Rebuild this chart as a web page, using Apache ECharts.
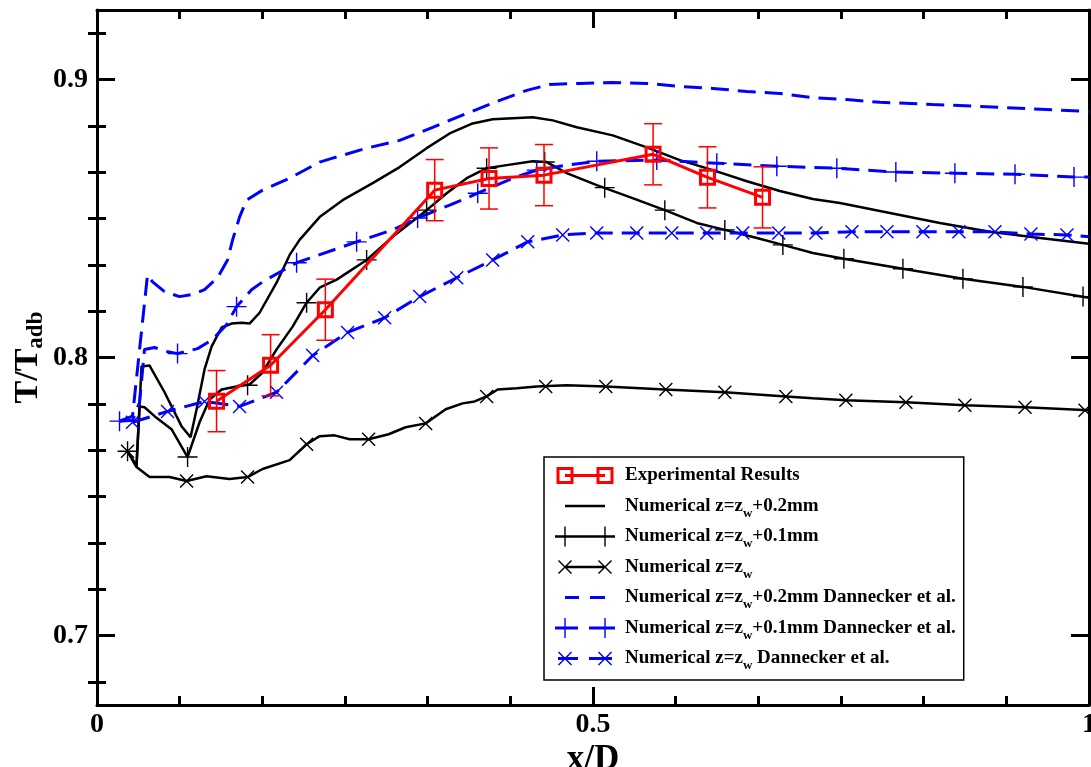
<!DOCTYPE html>
<html>
<head>
<meta charset="utf-8">
<title>T/Tadb vs x/D</title>
<script src="https://cdn.jsdelivr.net/npm/echarts@6/dist/echarts.min.js"></script>
<style>
  html, body { margin: 0; padding: 0; background: #fff; }
  #chart { width: 1091px; height: 767px; }
</style>
</head>
<body>
<div id="chart"></div>
<script>
// experimental points (with error bars)
const expX = [0.1205, 0.175, 0.2302, 0.3404, 0.3952, 0.4506, 0.5606, 0.6154, 0.6709];
const expY = [0.7843, 0.7972, 0.8172, 0.8602, 0.8644, 0.8656, 0.8731, 0.8648, 0.8576];
const expErr = [0.011, 0.011, 0.011, 0.011, 0.011, 0.011, 0.011, 0.011, 0.011];

// numerical z = zw + 0.2mm (line only)
const num02 = [
  [0.0308, 0.7663], [0.0398, 0.7609], [0.0449, 0.7968], [0.0530, 0.7971], [0.0681, 0.7875],
  [0.0852, 0.7753], [0.0943, 0.7713], [0.1004, 0.7814], [0.1084, 0.7957], [0.1155, 0.8039],
  [0.1256, 0.8108], [0.1357, 0.8122], [0.1457, 0.8125], [0.1538, 0.8122], [0.1639, 0.8161],
  [0.1810, 0.8269], [0.1942, 0.8369], [0.2042, 0.8423], [0.2244, 0.8505], [0.2476, 0.8566],
  [0.2779, 0.8627], [0.3051, 0.8685], [0.3323, 0.8753], [0.3555, 0.8806], [0.3787, 0.8842],
  [0.3989, 0.8857], [0.4392, 0.8864], [0.4594, 0.8853], [0.4836, 0.8828], [0.5199, 0.8799],
  [0.5542, 0.8756], [0.5875, 0.8710], [0.6208, 0.8674], [0.6551, 0.8634], [0.6883, 0.8599],
  [0.7216, 0.8570], [0.7489, 0.8556], [0.7993, 0.8520], [0.8497, 0.8484], [0.9001, 0.8452],
  [0.9506, 0.8430], [1.0000, 0.8409]
];

// numerical z = zw + 0.1mm (line and + marks)
const num01 = [
  [0.0308, 0.7663], [0.0398, 0.7609], [0.0429, 0.7824], [0.0479, 0.7821], [0.0580, 0.7789],
  [0.0751, 0.7742], [0.0913, 0.7642], [0.1034, 0.7767], [0.1135, 0.7849], [0.1256, 0.7885],
  [0.1407, 0.7896], [0.1538, 0.7903], [0.1669, 0.7946], [0.1810, 0.8029], [0.1972, 0.8111],
  [0.2113, 0.8197], [0.2244, 0.8251], [0.2416, 0.8280], [0.2718, 0.8351], [0.2980, 0.8434],
  [0.3323, 0.8530], [0.3525, 0.8591], [0.3727, 0.8645], [0.3928, 0.8681], [0.4130, 0.8692],
  [0.4392, 0.8706], [0.4533, 0.8703], [0.4735, 0.8663], [0.5038, 0.8620], [0.5371, 0.8577],
  [0.5724, 0.8530], [0.6046, 0.8484], [0.6329, 0.8459], [0.6652, 0.8430], [0.6914, 0.8405],
  [0.7216, 0.8376], [0.7529, 0.8355], [0.8124, 0.8319], [0.8729, 0.8283], [0.9334, 0.8254],
  [1.0000, 0.8215]
];
const num01Marks = [
  [0.0308, 0.7663], [0.0913, 0.7642], [0.1518, 0.7900], [0.2113, 0.8197], [0.2718, 0.8351],
  [0.3323, 0.8530], [0.3928, 0.8681], [0.4513, 0.8703], [0.5118, 0.8611], [0.5724, 0.8530],
  [0.6329, 0.8459], [0.6914, 0.8405], [0.7529, 0.8355], [0.8124, 0.8319], [0.8729, 0.8283],
  [0.9334, 0.8254], [0.9940, 0.8219]
];

// numerical z = zw (line and x marks)
const num00 = [
  [0.0308, 0.7663], [0.0398, 0.7606], [0.0530, 0.7570], [0.0731, 0.7570], [0.0903, 0.7556],
  [0.1104, 0.7573], [0.1336, 0.7563], [0.1518, 0.7570], [0.1669, 0.7599], [0.1942, 0.7631],
  [0.2113, 0.7688], [0.2244, 0.7717], [0.2395, 0.7720], [0.2547, 0.7706], [0.2738, 0.7706],
  [0.2940, 0.7724], [0.3111, 0.7749], [0.3313, 0.7763], [0.3515, 0.7814], [0.3686, 0.7835],
  [0.3807, 0.7842], [0.3928, 0.7860], [0.4039, 0.7885], [0.4231, 0.7889], [0.4433, 0.7896],
  [0.4735, 0.7900], [0.5129, 0.7896], [0.5724, 0.7885], [0.6329, 0.7875], [0.6944, 0.7860],
  [0.7216, 0.7853], [0.7549, 0.7846], [0.8154, 0.7839], [0.8749, 0.7828], [0.9355, 0.7821],
  [1.0000, 0.7810]
];
const num00Marks = [
  [0.0308, 0.7663], [0.0903, 0.7556], [0.1518, 0.7570], [0.2113, 0.7688], [0.2738, 0.7706],
  [0.3313, 0.7763], [0.3928, 0.7860], [0.4523, 0.7896], [0.5129, 0.7896], [0.5734, 0.7885],
  [0.6329, 0.7875], [0.6944, 0.7860], [0.7549, 0.7846], [0.8154, 0.7839], [0.8749, 0.7828],
  [0.9355, 0.7821], [0.9960, 0.7810]
];

// Dannecker et al., z = zw + 0.2mm (dashed line only)
const dan02 = [
  [0.0227, 0.7771], [0.0358, 0.7789], [0.0509, 0.8297], [0.0560, 0.8272], [0.0681, 0.8237],
  [0.0832, 0.8219], [0.0953, 0.8226], [0.1084, 0.8244], [0.1215, 0.8287], [0.1316, 0.8351],
  [0.1367, 0.8423], [0.1437, 0.8505], [0.1507, 0.8566], [0.1669, 0.8602], [0.1942, 0.8645],
  [0.2244, 0.8703], [0.2375, 0.8717], [0.2718, 0.8753], [0.3051, 0.8781], [0.3384, 0.8828],
  [0.3727, 0.8878], [0.4060, 0.8925], [0.4332, 0.8961], [0.4564, 0.8982], [0.4866, 0.8986],
  [0.5199, 0.8989], [0.5542, 0.8986], [0.5875, 0.8975], [0.6208, 0.8968], [0.6551, 0.8957],
  [0.6883, 0.8950], [0.7216, 0.8935], [0.7559, 0.8928], [0.7892, 0.8918], [0.8426, 0.8910],
  [0.9102, 0.8900], [1.0000, 0.8885]
];

// Dannecker et al., z = zw + 0.1mm (dashed line and + marks)
const dan01 = [
  [0.0227, 0.7771], [0.0358, 0.7774], [0.0429, 0.7839], [0.0479, 0.8029], [0.0580, 0.8036],
  [0.0701, 0.8022], [0.0812, 0.8014], [0.1014, 0.8032], [0.1165, 0.8065], [0.1306, 0.8118],
  [0.1407, 0.8183], [0.1558, 0.8244], [0.1669, 0.8272], [0.2012, 0.8341], [0.2617, 0.8416],
  [0.2980, 0.8459], [0.3232, 0.8502], [0.3555, 0.8548], [0.3838, 0.8591], [0.4191, 0.8645],
  [0.4433, 0.8674], [0.4735, 0.8692], [0.5038, 0.8706], [0.5643, 0.8710], [0.6248, 0.8699],
  [0.6853, 0.8688], [0.7458, 0.8681], [0.8053, 0.8667], [0.8648, 0.8663], [0.9254, 0.8659],
  [0.9849, 0.8649], [1.0000, 0.8649]
];
const dan01Marks = [
  [0.0227, 0.7771], [0.0812, 0.8014], [0.1407, 0.8183], [0.2012, 0.8341], [0.2617, 0.8416],
  [0.3232, 0.8502], [0.3838, 0.8591], [0.4433, 0.8674], [0.5038, 0.8706], [0.5643, 0.8710],
  [0.6248, 0.8699], [0.6853, 0.8688], [0.7458, 0.8681], [0.8053, 0.8667], [0.8648, 0.8663],
  [0.9254, 0.8659], [0.9849, 0.8649]
];

// Dannecker et al., z = zw (dashed line and x marks)
const dan00 = [
  [0.0358, 0.7767], [0.0711, 0.7806], [0.1084, 0.7842], [0.1437, 0.7824], [0.1810, 0.7875],
  [0.2174, 0.8007], [0.2526, 0.8090], [0.2900, 0.8143], [0.3253, 0.8219], [0.3626, 0.8287],
  [0.3989, 0.8351], [0.4342, 0.8416], [0.4695, 0.8441], [0.5038, 0.8448], [0.5441, 0.8448],
  [0.5794, 0.8448], [0.6147, 0.8448], [0.6510, 0.8448], [0.6873, 0.8448], [0.7247, 0.8448],
  [0.7610, 0.8452], [0.7963, 0.8452], [0.8326, 0.8452], [0.8689, 0.8452], [0.9052, 0.8452],
  [0.9415, 0.8444], [0.9778, 0.8441], [1.0000, 0.8434]
];
const dan00Marks = dan00.slice(0, dan00.length - 1);

// axis ticks
const xMin = 0, xMax = 1, xStep = 0.5;
const yMin = 0.675, yMax = 0.925;
const yMajor = [0.7, 0.8, 0.9];
const minorSplit = 6;

const yMinor = [];
for (let k = -minorSplit; k <= 2 * minorSplit + 6; k++) {
  const v = +(0.7 + k * 0.1 / minorSplit).toFixed(5);
  if (k % minorSplit !== 0 && v > yMin && v < yMax) yMinor.push(v);
}

const FONT = "'Liberation Serif', 'Times New Roman', serif";
const BLACK = '#000000', BLUE = '#0000ff', RED = '#ff0000';

const plusSym = 'path://M9.3,0h1.4v20h-1.4zM0,9.3h20v1.4h-20z';
const crossSym = 'path://M0,1L1,0L14,13L13,14ZM13,0L14,1L1,14L0,13Z';

// legend icon pieces (65 x 22 box)
const rect = (x, y, w, h) => `M${x},${y}h${w}v${h}h${-w}z`;
const plus = (cx, cy) => rect(cx - 0.7, cy - 10, 1.4, 20) + rect(cx - 10, cy - 0.7, 20, 1.4);
const cross = (cx, cy) => {
  const a = cx - 7, b = cy - 7;
  return `M${a},${b + 1}L${a + 1},${b}L${a + 14},${b + 13}L${a + 13},${b + 14}Z` +
    `M${a + 13},${b}L${a + 14},${b + 1}L${a + 1},${b + 14}L${a},${b + 13}Z`;
};
const ring = (cx, cy) => rect(cx - 8.5, cy - 8.5, 17, 17) + `M${cx - 5.5},${cy - 5.5}v11h11v-11z`;
const icon = (p) => 'path://M0,0M65,22' + p;

const legendItems = [
  { name: 'exp', color: RED, label: '{m|Experimental Results}{s| }',
    icon: icon(ring(10, 11) + ring(50, 11) + rect(10, 9.5, 40, 3)) },
  { name: 'num02', color: BLACK, label: '{m|Numerical z=z}{s|w}{m|+0.2mm}',
    icon: icon(rect(10, 9.75, 40, 2.5)) },
  { name: 'num01', color: BLACK, label: '{m|Numerical z=z}{s|w}{m|+0.1mm}',
    icon: icon(rect(0, 9.75, 60, 2.5) + plus(10, 11) + plus(50, 11)) },
  { name: 'num00', color: BLACK, label: '{m|Numerical z=z}{s|w}',
    icon: icon(rect(10, 9.75, 40, 2.5) + cross(10, 11) + cross(50, 11)) },
  { name: 'dan02', color: BLUE, label: '{m|Numerical z=z}{s|w}{m|+0.2mm Dannecker et al.}',
    icon: icon(rect(10, 9.5, 14, 3) + rect(35, 9.5, 15, 3)) },
  { name: 'dan01', color: BLUE, label: '{m|Numerical z=z}{s|w}{m|+0.1mm Dannecker et al.}',
    icon: icon(rect(0, 9.5, 23, 3) + rect(34, 9.5, 26, 3) + plus(10, 11) + plus(50, 11)) },
  { name: 'dan00', color: BLUE, label: '{m|Numerical z=z}{s|w}{m| Dannecker et al.}',
    icon: icon(rect(3, 9.5, 20, 3) + rect(34, 9.5, 23, 3) + cross(10, 11) + cross(50, 11)) }
];

const richText = {
  m: { fontFamily: FONT, fontWeight: 'bold', fontSize: 19, lineHeight: 22, color: BLACK },
  s: { fontFamily: FONT, fontWeight: 'bold', fontSize: 13, lineHeight: 2, verticalAlign: 'top',
    padding: [12, 0, 0, 0], color: BLACK }
};

const lineSeries = (name, data, color, dashed) => ({
  name, type: 'line', data, symbol: 'none', showSymbol: false,
  lineStyle: { color, width: dashed ? 3 : 2.5, type: dashed ? [18, 9] : 'solid', cap: 'butt' },
  z: 2, silent: true
});
const markSeries = (name, data, color, sym, size) => ({
  name, type: 'scatter', data, symbol: sym, symbolSize: size,
  itemStyle: { color, opacity: 1 }, z: 3, silent: true
});

const chart = echarts.init(document.getElementById('chart'));

const tickStyle = { color: BLACK, width: 3 };
const yAxisBase = {
  type: 'value', min: yMin, max: yMax, splitLine: { show: false },
  axisLine: { show: true, onZero: false, lineStyle: { color: BLACK, width: 3 } },
  axisLabel: { show: false }
};

chart.setOption({
  animation: false,
  backgroundColor: '#ffffff',
  grid: { left: 97, right: 2, top: 10, bottom: 62, containLabel: false, outerBoundsMode: 'none' },
  xAxis: [
    {
      type: 'value', min: xMin, max: xMax, interval: xStep, position: 'bottom',
      name: 'x/D', nameLocation: 'middle', nameGap: 37, nameMoveOverlap: false,
      nameTextStyle: { fontFamily: FONT, fontWeight: 'bold', fontSize: 35, color: BLACK },
      axisLine: { show: true, onZero: false, lineStyle: { color: BLACK, width: 3 } },
      axisTick: { show: true, inside: true, length: 18, lineStyle: tickStyle },
      minorTick: { show: true, splitNumber: minorSplit, length: 9, lineStyle: tickStyle },
      axisLabel: { show: true, margin: 6, showMinLabel: true, showMaxLabel: true,
        fontFamily: FONT, fontWeight: 'bold', fontSize: 28, color: BLACK },
      splitLine: { show: false }
    },
    {
      type: 'value', min: xMin, max: xMax, interval: xStep, position: 'top',
      axisLine: { show: true, onZero: false, lineStyle: { color: BLACK, width: 3 } },
      axisTick: { show: true, inside: true, length: 18, lineStyle: tickStyle },
      minorTick: { show: true, splitNumber: minorSplit, length: 9, lineStyle: tickStyle },
      axisLabel: { show: false },
      splitLine: { show: false }
    }
  ],
  yAxis: [
    Object.assign({}, yAxisBase, {
      position: 'left',
      name: '{b|T/T}{s|adb}', nameLocation: 'middle', nameGap: 51, nameRotate: 90,
      nameMoveOverlap: false,
      nameTextStyle: {
        rich: {
          b: { fontFamily: FONT, fontWeight: 'bold', fontSize: 34, lineHeight: 36, color: BLACK },
          s: { fontFamily: FONT, fontWeight: 'bold', fontSize: 23, lineHeight: 2, verticalAlign: 'top',
            padding: [15, 0, 0, 0], color: BLACK }
        }
      },
      axisTick: { show: true, inside: true, length: 18, customValues: yMajor, lineStyle: tickStyle },
      axisLabel: { show: true, customValues: yMajor, margin: 9, formatter: (v) => v.toFixed(1),
        fontFamily: FONT, fontWeight: 'bold', fontSize: 28, color: BLACK }
    }),
    Object.assign({}, yAxisBase, {
      position: 'left', axisLine: { show: false },
      axisTick: { show: true, inside: true, length: 9, customValues: yMinor, lineStyle: tickStyle }
    }),
    Object.assign({}, yAxisBase, {
      position: 'right',
      axisTick: { show: true, inside: true, length: 18, customValues: yMajor, lineStyle: tickStyle }
    }),
    Object.assign({}, yAxisBase, {
      position: 'right', axisLine: { show: false },
      axisTick: { show: true, inside: true, length: 9, customValues: yMinor, lineStyle: tickStyle }
    })
  ],
  legend: {
    orient: 'vertical', left: 544, top: 457,
    itemWidth: 65, itemHeight: 22, itemGap: 5.5,
    padding: [7.5, 8, 7.5, 11],
    borderColor: BLACK, borderWidth: 1.5, backgroundColor: '#ffffff',
    selectedMode: false,
    data: legendItems.map((it) => ({
      name: it.name, icon: it.icon,
      itemStyle: { color: it.color, borderWidth: 0, opacity: 1 }
    })),
    formatter: (name) => legendItems.find((it) => it.name === name).label,
    textStyle: { fontFamily: FONT, fontWeight: 'bold', fontSize: 19, color: BLACK, rich: richText }
  },
  series: [
    lineSeries('num02', num02, BLACK, false),
    lineSeries('num01', num01, BLACK, false),
    lineSeries('num00', num00, BLACK, false),
    lineSeries('dan02', dan02, BLUE, true),
    lineSeries('dan01', dan01, BLUE, true),
    lineSeries('dan00', dan00, BLUE, true),
    markSeries('num01', num01Marks, BLACK, plusSym, 20),
    markSeries('num00', num00Marks, BLACK, crossSym, 14),
    markSeries('dan01', dan01Marks, BLUE, plusSym, 20),
    markSeries('dan00', dan00Marks, BLUE, crossSym, 14),
    {
      name: 'exp', type: 'custom', z: 4, silent: true,
      data: expX.map((x, i) => [x, expY[i], expErr[i]]),
      encode: { x: 0, y: 1 },
      renderItem: (params, api) => {
        const x = api.value(0), y = api.value(1), e = api.value(2);
        const top = api.coord([x, y + e]);
        const bot = api.coord([x, y - e]);
        const w = 9;
        const style = { stroke: RED, lineWidth: 1.5, fill: null };
        return {
          type: 'group',
          children: [
            { type: 'line', shape: { x1: top[0], y1: top[1], x2: bot[0], y2: bot[1] }, style },
            { type: 'line', shape: { x1: top[0] - w, y1: top[1], x2: top[0] + w, y2: top[1] }, style },
            { type: 'line', shape: { x1: bot[0] - w, y1: bot[1], x2: bot[0] + w, y2: bot[1] }, style }
          ]
        };
      }
    },
    {
      name: 'exp', type: 'line', z: 5, silent: true,
      data: expX.map((x, i) => [x, expY[i]]),
      symbol: 'rect', symbolSize: 14, showSymbol: true,
      lineStyle: { color: RED, width: 3 },
      itemStyle: { color: 'rgba(0,0,0,0)', borderColor: RED, borderWidth: 3 }
    }
  ]
});

window.addEventListener('resize', () => chart.resize());
</script>
</body>
</html>
